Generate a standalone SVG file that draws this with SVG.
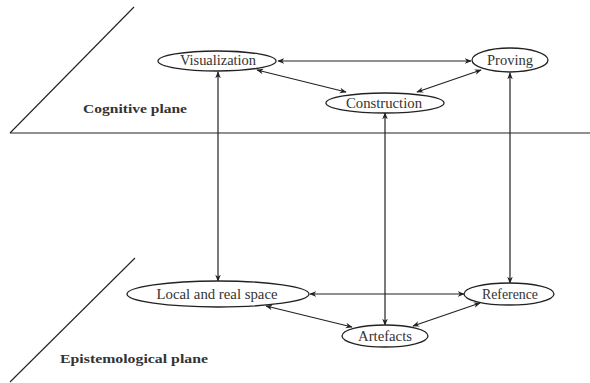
<svg xmlns="http://www.w3.org/2000/svg" width="590" height="383" viewBox="0 0 590 383">
<style>
.n{fill:#fff;stroke:#222;stroke-width:1.3}
.t{font-family:"Liberation Serif","DejaVu Serif",serif;font-size:14px;fill:#333;text-anchor:middle}
.b{font-family:"Liberation Serif","DejaVu Serif",serif;font-size:12.5px;font-weight:bold;fill:#333}
.c{stroke:#222;stroke-width:1.2;fill:none;marker-start:url(#a);marker-end:url(#a)}
.p{stroke:#222;stroke-width:1.1;fill:none}
</style>
<defs>
<marker id="a" viewBox="0 0 10 10" refX="9" refY="5" markerWidth="7" markerHeight="7" markerUnits="userSpaceOnUse" orient="auto-start-reverse">
<path d="M0,1 L10,5 L0,9 L3,5 Z" fill="#222"/>
</marker>
</defs>
<g id="planes">
<line class="p" x1="10" y1="133" x2="134" y2="7"/>
<line class="p" x1="10" y1="133" x2="590" y2="133"/>
<line class="p" x1="10" y1="382" x2="135" y2="258"/>
<text class="b" x="83" y="113" textLength="104" lengthAdjust="spacingAndGlyphs">Cognitive plane</text>
<text class="b" x="60" y="363" textLength="148" lengthAdjust="spacingAndGlyphs">Epistemological plane</text>
</g>
<g id="connectors">
<line class="c" x1="278" y1="61" x2="471" y2="61"/>
<line class="c" x1="257" y1="70" x2="346" y2="92"/>
<line class="c" x1="417" y1="92" x2="481" y2="70"/>
<line class="c" x1="218" y1="72" x2="218" y2="281"/>
<line class="c" x1="385" y1="113" x2="385" y2="325"/>
<line class="c" x1="510" y1="73" x2="510" y2="283"/>
<line class="c" x1="310" y1="294" x2="464" y2="294"/>
<line class="c" x1="266" y1="306" x2="352" y2="327"/>
<line class="c" x1="413" y1="326" x2="480" y2="303"/>
</g>
<g id="visualization"><ellipse class="n" cx="217" cy="61" rx="59" ry="10"/><text class="t" x="218" y="65" textLength="76" lengthAdjust="spacingAndGlyphs">Visualization</text></g>
<g id="proving"><ellipse class="n" cx="510" cy="60" rx="38" ry="12"/><text class="t" x="510" y="64.5" textLength="46" lengthAdjust="spacingAndGlyphs">Proving</text></g>
<g id="construction"><ellipse class="n" cx="385" cy="103" rx="59" ry="10"/><text class="t" x="384" y="107.5" textLength="76" lengthAdjust="spacingAndGlyphs">Construction</text></g>
<g id="local"><ellipse class="n" cx="218" cy="294" rx="91" ry="13"/><text class="t" x="217" y="298.5" textLength="121" lengthAdjust="spacingAndGlyphs">Local and real space</text></g>
<g id="artefacts"><ellipse class="n" cx="385" cy="336" rx="43" ry="11"/><text class="t" x="385" y="340.5" textLength="54" lengthAdjust="spacingAndGlyphs">Artefacts</text></g>
<g id="reference"><ellipse class="n" cx="509" cy="294" rx="45" ry="11"/><text class="t" x="510" y="298.5" textLength="56" lengthAdjust="spacingAndGlyphs">Reference</text></g>
</svg>
